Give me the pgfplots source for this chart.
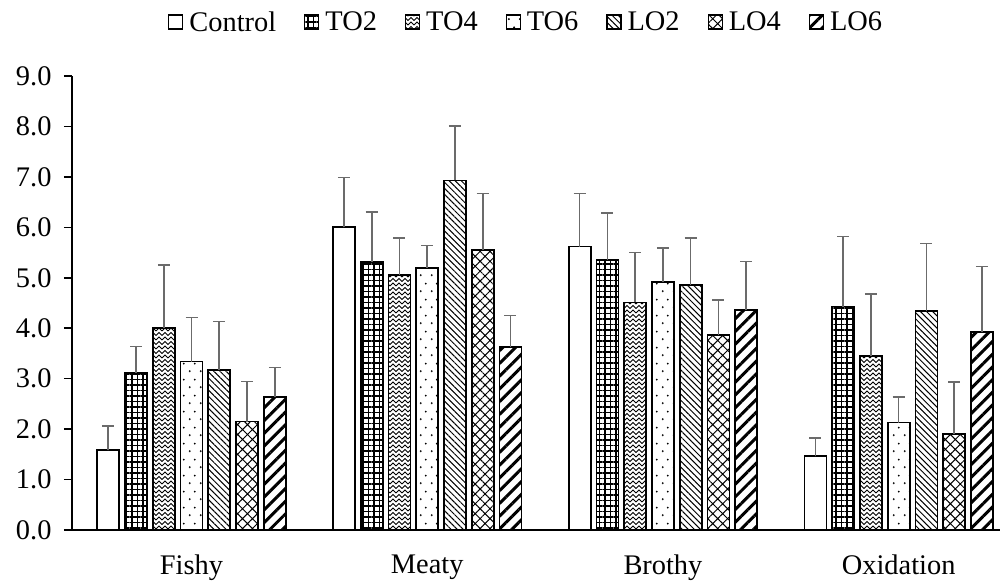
\documentclass[border=0pt]{standalone}
\usepackage{fontspec}
\setmainfont{Liberation Serif}
\usepackage{pgfplots}
\pgfplotsset{compat=1.18}
\usepackage{pgfplotstable}
\usetikzlibrary{patterns,patterns.meta}

\pgfdeclarepatternformonly{chevron}{\pgfqpoint{-1bp}{-1bp}}{\pgfqpoint{7bp}{5.5bp}}{\pgfqpoint{6bp}{4.5bp}}{%
  \pgfsetlinewidth{1bp}%
  \pgfpathmoveto{\pgfqpoint{0bp}{0bp}}%
  \pgfpathlineto{\pgfqpoint{3bp}{3bp}}%
  \pgfpathlineto{\pgfqpoint{6bp}{0bp}}%
  \pgfusepath{stroke}}
\pgfdeclarepatternformonly{sparsedots}{\pgfpointorigin}{\pgfqpoint{11bp}{16bp}}{\pgfqpoint{11bp}{16bp}}{%
  \pgfpathcircle{\pgfqpoint{3bp}{4bp}}{1.1bp}%
  \pgfpathcircle{\pgfqpoint{8.5bp}{12bp}}{1.1bp}%
  \pgfusepath{fill}}

\pgfplotstableread{
x C Ce T2 T2e T4 T4e T6 T6e L2 L2e L4 L4e L6 L6e
0 1.58 0.48 3.12 0.52 4.01 1.24 3.34 0.87 3.17 0.96 2.15 0.79 2.63 0.59
1 6.00 0.99 5.31 0.99 5.06 0.73 5.20 0.44 6.93 1.08 5.55 1.12 3.62 0.63
2 5.62 1.05 5.36 0.93 4.51 0.99 4.92 0.67 4.86 0.93 3.86 0.70 4.36 0.96
3 1.46 0.36 4.43 1.39 3.45 1.23 2.13 0.51 4.34 1.34 1.91 1.02 3.92 1.30
}\datatable

\newcommand{\bigfont}{\fontsize{28.5}{34}\selectfont}

\pgfplotsset{
  boxlegend/.style={legend image code/.code={\draw[##1,line width=1.2bp] (0bp,-7bp) rectangle (14bp,7bp);}},
  errs/.style={error bars/.cd, y dir=plus, y explicit,
    error bar style={line width=1.6bp, draw=black!58},
    error mark options={rotate=90, mark size=6bp, line width=1.6bp, draw=black!58}},
}

\begin{document}
\begin{tikzpicture}
\begin{axis}[
  scale only axis, width=928bp, height=454bp,
  ybar=5.75bp, bar width=22bp,
  xmin=-0.507, xmax=3.43, ymin=0, ymax=9,
  axis x line*=bottom, axis y line*=left,
  axis line style={-, line width=1.5bp, black},
  xtick={0,1,2,3}, xticklabels={Fishy,Meaty,Brothy,Oxidation},
  xtick style={draw=none},
  ytick={0,1,...,9},
  yticklabel style={/pgf/number format/fixed, /pgf/number format/fixed zerofill, /pgf/number format/precision=1},
  /pgf/number format/assume math mode=true,
  tick align=outside, major tick length=8bp,
  ytick style={black, line width=1.5bp},
  tick label style={font=\bigfont},
  yticklabel style={xshift=-9bp},
  xticklabel style={yshift=-13bp},
  legend columns=7,
  legend style={draw=none, font=\bigfont, at={(0.49,1)}, anchor=center, yshift=54bp,
    nodes={inner sep=3bp}, /tikz/every odd column/.append style={column sep=3bp},
    /tikz/every even column/.append style={column sep=25bp}},
  every axis plot/.append style={draw=black, line width=1.8bp},
]
\addplot[fill=white, boxlegend, errs] table[x=x, y=C, y error=Ce] {\datatable};
\addlegendentry{Control}
\addplot[pattern={Hatch[angle=0, distance=5.5bp, line width=1.3bp]}, boxlegend, errs] table[x=x, y=T2, y error=T2e] {\datatable};
\addlegendentry{TO2}
\addplot[pattern=chevron, boxlegend, errs] table[x=x, y=T4, y error=T4e] {\datatable};
\addlegendentry{TO4}
\addplot[pattern=sparsedots, boxlegend, errs] table[x=x, y=T6, y error=T6e] {\datatable};
\addlegendentry{TO6}
\addplot[pattern={Lines[angle=-45, distance=4.3bp, line width=1bp]}, boxlegend, errs] table[x=x, y=L2, y error=L2e] {\datatable};
\addlegendentry{LO2}
\addplot[pattern={Hatch[angle=45, distance=7bp, line width=1bp]}, boxlegend, errs] table[x=x, y=L4, y error=L4e] {\datatable};
\addlegendentry{LO4}
\addplot[pattern={Lines[angle=45, distance=9bp, line width=3bp]}, boxlegend, errs] table[x=x, y=L6, y error=L6e] {\datatable};
\addlegendentry{LO6}
\end{axis}
\pgfresetboundingbox
\path ([shift={(-72bp,-53bp)}]current axis.south west) rectangle ([shift={(5bp,76bp)}]current axis.north east);
\end{tikzpicture}
\end{document}
